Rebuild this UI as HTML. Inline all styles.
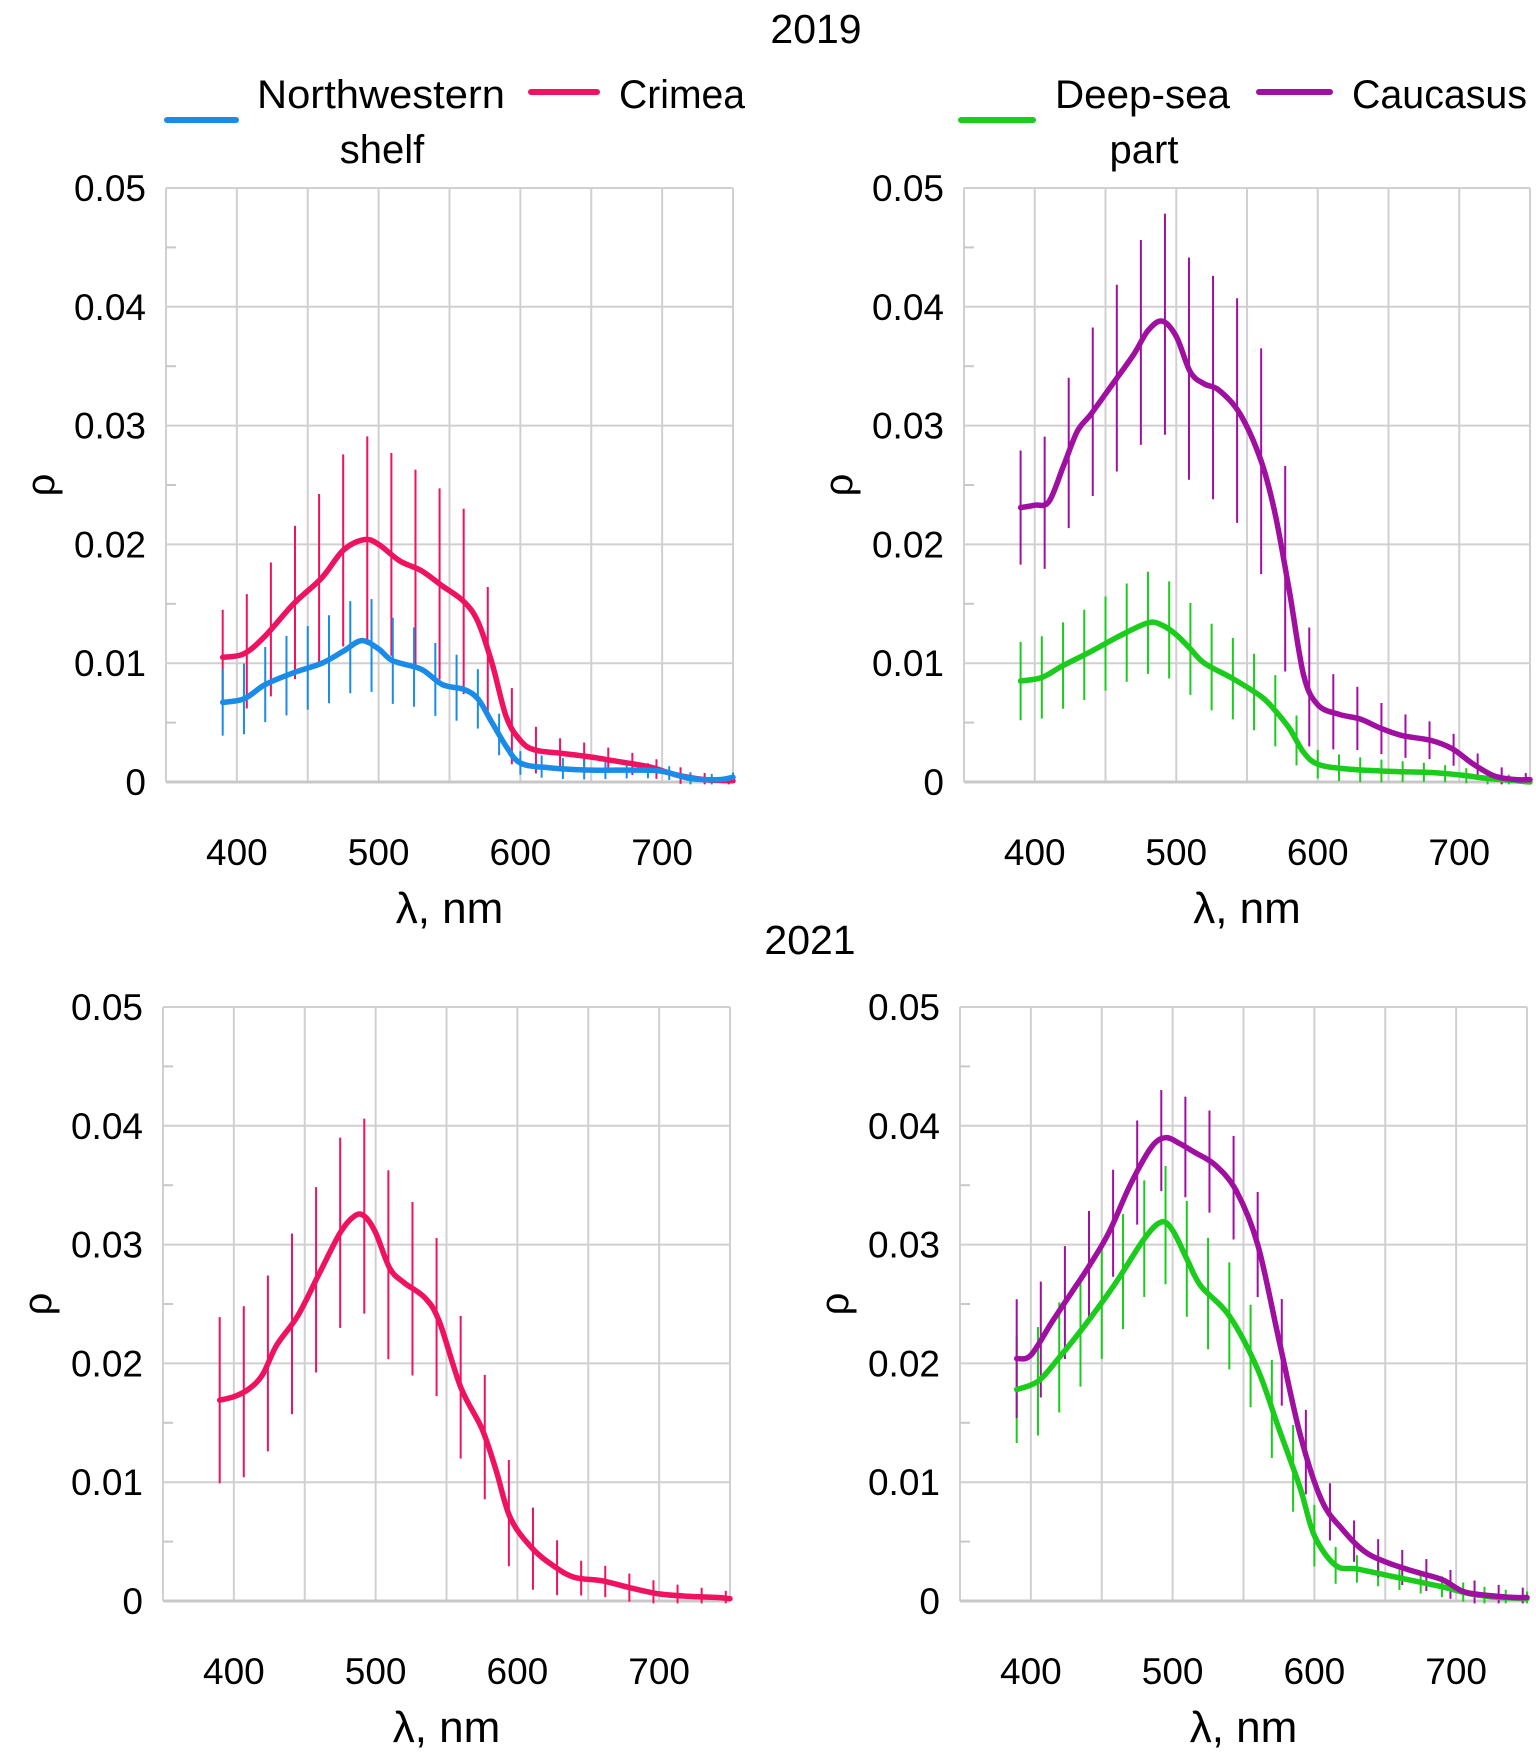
<!DOCTYPE html>
<html><head><meta charset="utf-8"><style>
html,body{margin:0;padding:0;background:#fff;}
svg{display:block;font-family:"Liberation Sans",sans-serif;}
</style></head><body>
<svg id="s" width="1536" height="1755" viewBox="0 0 1536 1755" xmlns="http://www.w3.org/2000/svg">
<rect width="1536" height="1755" fill="#fff"/>
<g font-size="40" fill="#000">
<text x="816" y="43" text-anchor="middle" font-size="41">2019</text>
<text x="810" y="954" text-anchor="middle" font-size="41">2021</text>
<text x="257" y="108" textLength="248" lengthAdjust="spacingAndGlyphs">Northwestern</text>
<text x="382" y="163" text-anchor="middle">shelf</text>
<text x="619" y="108" textLength="126" lengthAdjust="spacingAndGlyphs">Crimea</text>
<text x="1055" y="108" textLength="175" lengthAdjust="spacingAndGlyphs">Deep-sea</text>
<text x="1144" y="163" text-anchor="middle">part</text>
<text x="1352" y="108" textLength="175" lengthAdjust="spacingAndGlyphs">Caucasus</text>
</g>
<g stroke-width="6" stroke-linecap="round">
<line x1="167" y1="120" x2="236" y2="120" stroke="#1a8ce8"/>
<line x1="531" y1="92" x2="597" y2="92" stroke="#ef1260"/>
<line x1="961" y1="120" x2="1033" y2="120" stroke="#1ccc1c"/>
<line x1="1259" y1="92" x2="1330" y2="92" stroke="#a010a0"/>
</g>
<g id="plots"></g>
</svg>
<script>
const NS="http://www.w3.org/2000/svg";
const root=document.getElementById("plots");
function el(t,a,txt){const e=document.createElementNS(NS,t);for(const k in a)e.setAttribute(k,a[k]);if(txt!==undefined)e.textContent=txt;root.appendChild(e);return e;}
const C={b:"#1a8ce8",r:"#ef1260",p:"#a010a0",g:"#1ccc1c"};
function interp(d,x){if(x<=d[0][0])return d[0][1];for(let i=0;i<d.length-1;i++){if(x>=d[i][0]&&x<=d[i+1][0]){const t=(x-d[i][0])/(d[i+1][0]-d[i][0]);return d[i][1]+t*(d[i+1][1]-d[i][1]);}}return d[d.length-1][1];}
function crPath(P){let s="M"+P[0][0].toFixed(1)+","+P[0][1].toFixed(1);
  for(let i=0;i<P.length-1;i++){const p0=P[Math.max(0,i-1)],p1=P[i],p2=P[i+1],p3=P[Math.min(P.length-1,i+2)];
    const c1=[p1[0]+(p2[0]-p0[0])/6,p1[1]+(p2[1]-p0[1])/6],c2=[p2[0]-(p3[0]-p1[0])/6,p2[1]-(p3[1]-p1[1])/6];
    s+=` C${c1[0].toFixed(1)},${c1[1].toFixed(1)} ${c2[0].toFixed(1)},${c2[1].toFixed(1)} ${p2[0].toFixed(1)},${p2[1].toFixed(1)}`;}
  return s;}
function panel(L,R,T,B,series){
  const X=v=>L+(v-350)/400*(R-L), Y=v=>B-v/0.05*(B-T);
  for(let i=1;i<=5;i++) el("line",{x1:L,x2:R,y1:Y(i*0.01),y2:Y(i*0.01),stroke:"#d0d0d0","stroke-width":2});
  for(let v=400;v<=750;v+=50) el("line",{x1:X(v),x2:X(v),y1:T,y2:B,stroke:"#d0d0d0","stroke-width":2});
  el("line",{x1:L,x2:L,y1:T,y2:B,stroke:"#d0d0d0","stroke-width":2});
  el("line",{x1:L,x2:R,y1:B,y2:B,stroke:"#c8c8c8","stroke-width":3});
  for(let i=0;i<5;i++){const y=Y(i*0.01+0.005);el("line",{x1:L,x2:L+10,y1:y,y2:y,stroke:"#c8c8c8","stroke-width":2});}
  ["0","0.01","0.02","0.03","0.04","0.05"].forEach((s,i)=>el("text",{x:L-20,y:Y(i*0.01)+13,"text-anchor":"end","font-size":"37"},s));
  [400,500,600,700].forEach(v=>el("text",{x:X(v),y:B+83,"text-anchor":"middle","font-size":"37"},v));
  el("text",{x:(L+R)/2,y:B+141,"text-anchor":"middle","font-size":"44"},"λ, nm");
  el("text",{x:0,y:0,transform:`translate(${L-112},${(T+B)/2}) rotate(-90)`,"text-anchor":"middle","font-size":"40"},"ρ");
  series.forEach(s=>{
    for(let x=390;x<=752;x+=s.step){const v=interp(s.d,x);const h=interp(s.h,x);
      el("line",{x1:X(x),x2:X(x),y1:Y(v+h),y2:Y(Math.max(v-h,-0.0002)),stroke:s.col,"stroke-width":2});}
  });
  series.forEach(s=>{
    el("path",{d:crPath(s.d.map(p=>[X(p[0]),Y(p[1])])),fill:"none",stroke:s.col,"stroke-width":5.5,"stroke-linejoin":"round","stroke-linecap":"round"});
  });
}
const crim19=[[390,.0105],[405,.0108],[420,.0123],[440,.015],[460,.0172],[475,.0195],[490,.0204],[500,.02],[515,.0186],[530,.0178],[545,.0165],[560,.0152],[570,.0135],[580,.01],[590,.0055],[600,.0035],[610,.0027],[630,.0024],[650,.0021],[665,.0018],[690,.0013],[710,.0006],[730,.0002],[750,.0001]];
const nw19=[[390,.0067],[405,.007],[420,.0082],[440,.0092],[460,.01],[475,.011],[488,.0119],[500,.0112],[510,.0102],[530,.0095],[545,.0082],[560,.0078],[570,.007],[580,.005],[590,.003],[600,.0016],[620,.0012],[650,.001],[680,.001],[700,.0009],[720,.0003],[740,.0002],[750,.0004]];
const cau19=[[390,.0231],[400,.0233],[410,.0236],[420,.0265],[430,.0295],[440,.031],[455,.0335],[470,.036],[480,.038],[490,.0388],[500,.0375],[510,.0345],[520,.0335],[530,.033],[545,.031],[560,.027],[570,.0225],[580,.016],[590,.009],[600,.0065],[615,.0057],[630,.0053],[645,.0045],[660,.0039],[680,.0035],[695,.0028],[710,.0015],[725,.0005],[740,.0002],[750,.0002]];
const deep19=[[390,.0085],[405,.0088],[420,.0098],[440,.011],[460,.0123],[480,.0134],[490,.0132],[500,.0124],[510,.0112],[520,.01],[540,.0087],[560,.0072],[570,.006],[580,.0045],[590,.0025],[600,.0015],[620,.0011],[650,.0009],[680,.0008],[700,.0006],[720,.0003],[740,.0001],[750,0]];
const crim21=[[390,.0169],[400,.0172],[410,.0178],[420,.019],[430,.0215],[445,.024],[460,.0275],[475,.031],[485,.0324],[492,.0324],[500,.031],[510,.028],[520,.0268],[535,.0255],[545,.0235],[560,.018],[575,.0145],[585,.011],[595,.007],[610,.0045],[625,.003],[640,.002],[660,.0017],[680,.0011],[700,.0006],[720,.0004],[740,.0003],[750,.0002]];
const cau21=[[390,.0204],[400,.0207],[415,.0235],[430,.0262],[440,.028],[455,.031],[470,.035],[485,.0382],[495,.039],[505,.0385],[515,.0378],[530,.0367],[545,.0345],[560,.03],[575,.022],[590,.014],[605,.0085],[620,.006],[635,.0042],[650,.0033],[670,.0025],[690,.0018],[705,.0008],[720,.0005],[740,.0003],[750,.0003]];
const deep21=[[390,.0178],[405,.0185],[420,.0205],[440,.0235],[460,.0268],[480,.0305],[492,.0319],[500,.0312],[510,.0288],[520,.0265],[540,.024],[560,.0195],[575,.0145],[590,.0095],[600,.0055],[615,.003],[630,.0027],[650,.0022],[670,.0017],[690,.0012],[710,.0006],[730,.0003],[750,.0002]];
panel(166,733,188,782,[
 {d:crim19,col:C.r,step:17,h:[[390,.004],[490,.0088],[560,.0078],[590,.0035],[620,.0013],[700,.0008],[750,.0004]]},
 {d:nw19,col:C.b,step:15,h:[[390,.0028],[490,.004],[570,.0025],[600,.001],[750,.0004]]}]);
panel(964,1530,188,782,[
 {d:deep19,col:C.g,step:15,h:[[390,.0033],[480,.0043],[570,.003],[600,.0012],[750,.0004]]},
 {d:cau19,col:C.p,step:17,h:[[390,.0048],[490,.0093],[560,.0095],[580,.0085],[600,.0035],[650,.002],[720,.001],[750,.0005]]}]);
panel(163,730,1007,1601,[
 {d:crim21,col:C.r,step:17,h:[[390,.007],[500,.0083],[560,.006],[600,.0042],[640,.0015],[750,.0006]]}]);
panel(960,1527,1007,1601,[
 {d:deep21,col:C.g,step:15,h:[[390,.0045],[500,.005],[580,.004],[620,.0012],[750,.0006]]},
 {d:cau21,col:C.p,step:17,h:[[390,.005],[500,.0042],[580,.0045],[620,.0018],[750,.0008]]}]);
</script>
</body></html>
